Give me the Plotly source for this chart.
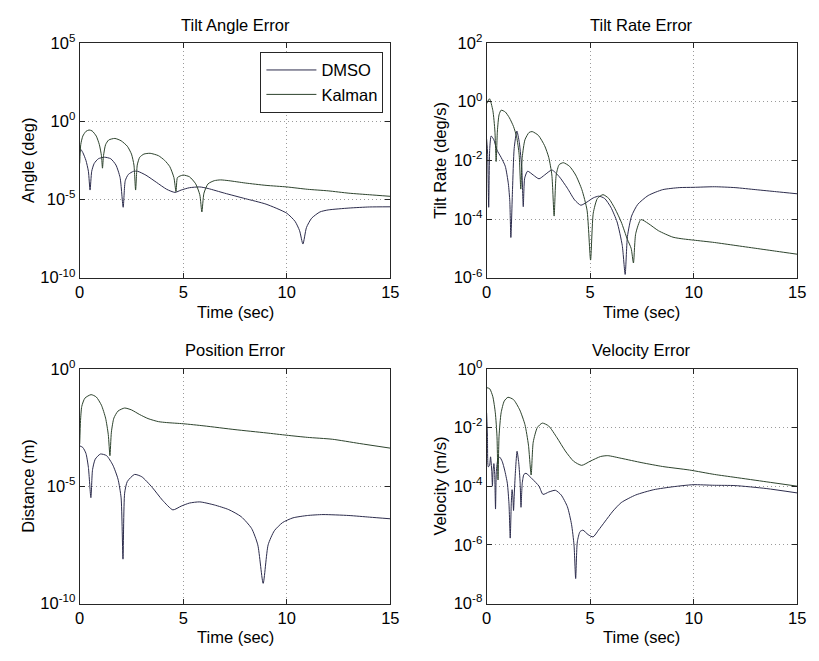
import numpy as np
import plotly.graph_objects as go

# ---------------- data (log10 of error) ----------------
# Tilt Angle Error
angle_t_kalman = [0, 0.05, 0.15, 0.3, 0.45, 0.6, 0.8, 0.95, 1.05, 1.1, 1.15, 1.25, 1.4, 1.7, 2.0, 2.3, 2.5,
                  2.62, 2.7, 2.78, 2.9, 3.1, 3.4, 3.8, 4.1, 4.35, 4.55, 4.65, 4.72, 4.85, 5.0, 5.3, 5.6, 5.8,
                  5.9, 6.0, 6.2, 6.5, 6.8, 7.2, 8, 9, 10, 11, 12, 13, 14, 15]
angle_kalman_log10 = [-2.7, -1.5, -0.95, -0.65, -0.56, -0.62, -0.95, -1.5, -2.2, -3.0, -2.2, -1.5, -1.2, -1.1,
                      -1.25, -1.6, -2.1, -2.8, -4.4, -2.8, -2.3, -2.1, -2.05, -2.2, -2.5, -2.9, -3.6, -4.5, -3.6,
                      -3.5, -3.44, -3.55, -4.0, -4.7, -5.8, -4.6, -4.0, -3.8, -3.75, -3.8, -3.95, -4.1, -4.2,
                      -4.35, -4.45, -4.6, -4.7, -4.8]
angle_t_dmso = [0, 0.05, 0.15, 0.3, 0.42, 0.5, 0.58, 0.7, 0.9, 1.2, 1.5, 1.75, 1.95, 2.1, 2.2, 2.35, 2.6, 2.8,
                3.2, 3.7, 4.2, 4.6, 4.9, 5.3, 5.8, 6.2, 7, 8, 9, 10, 10.4, 10.62, 10.78, 10.95, 11.2, 11.6, 12,
                13, 14, 15]
angle_dmso_log10 = [-2.0, -1.8, -2.0, -2.5, -3.2, -4.4, -3.2, -2.7, -2.4, -2.3, -2.4, -2.8, -3.6, -5.5, -3.8,
                    -3.4, -3.2, -3.2, -3.45, -3.9, -4.35, -4.55, -4.4, -4.25, -4.2, -4.3, -4.6, -4.95, -5.3,
                    -5.88, -6.4, -7.0, -7.85, -6.8, -6.2, -5.8, -5.67, -5.55, -5.48, -5.47]

# Tilt Rate Error
rate_t_kalman = [0, 0.14, 0.3, 0.4, 0.46, 0.52, 0.6, 0.7, 0.9, 1.1, 1.3, 1.45, 1.57, 1.65, 1.72, 1.85, 2.05,
                 2.2, 2.5, 2.8, 3.0, 3.15, 3.26, 3.36, 3.5, 3.7, 4.0, 4.3, 4.6, 4.85, 5.02, 5.15, 5.35, 5.62,
                 5.9, 6.2, 6.5, 6.8, 6.98, 7.09, 7.2, 7.45, 7.8, 8.3, 9.0, 9.5, 10, 11, 12, 13, 14, 15]
rate_kalman_log10 = [-0.07, 0.1, -0.3, -1.0, -2.04, -1.0, -0.45, -0.29, -0.35, -0.55, -0.85, -1.2, -1.8,
                     -2.98, -1.9, -1.3, -1.05, -1.02, -1.15, -1.5, -1.9, -2.5, -3.9, -2.5, -2.15, -2.08,
                     -2.2, -2.5, -3.0, -3.7, -5.4, -3.8, -3.3, -3.17, -3.3, -3.65, -4.1, -4.7, -5.0, -5.5,
                     -4.5, -4.02, -4.15, -4.4, -4.62, -4.68, -4.72, -4.8, -4.9, -5.0, -5.1, -5.2]
rate_t_dmso = [0, 0.05, 0.1, 0.15, 0.22, 0.35, 0.5, 0.7, 0.9, 1.05, 1.12, 1.17, 1.25, 1.33, 1.46, 1.58, 1.7,
               1.77, 1.84, 1.98, 2.25, 2.53, 2.8, 3.15, 3.5, 3.9, 4.25, 4.55, 4.85, 5.15, 5.42, 5.7, 6.0, 6.3,
               6.55, 6.69, 6.8, 7.0, 7.3, 7.8, 8.5, 9.3, 10, 11, 12, 13, 14, 15]
rate_dmso_log10 = [-1.27, -1.8, -3.6, -1.6, -1.17, -1.3, -1.65, -1.9, -2.2, -2.8, -3.4, -4.63, -3.0, -1.6,
                   -1.0, -1.4, -2.3, -3.58, -2.6, -2.37, -2.5, -2.63, -2.5, -2.33, -2.55, -2.95, -3.35,
                   -3.53, -3.42, -3.28, -3.22, -3.3, -3.6, -4.1, -4.9, -5.89, -4.6, -3.9, -3.5, -3.2, -3.0,
                   -2.93, -2.92, -2.9, -2.93, -3.0, -3.07, -3.14]

# Position Error
pos_t_kalman = [0, 0.04, 0.1, 0.25, 0.55, 0.8, 1.05, 1.25, 1.38, 1.46, 1.53, 1.65, 1.85, 2.17, 2.5, 2.9,
                3.3, 3.8, 4.2, 5.0, 6, 7.5, 9, 10, 11, 12.2, 13.5, 15]
pos_kalman_log10 = [-3.2, -2.2, -1.6, -1.25, -1.1, -1.2, -1.55, -2.1, -2.8, -3.7, -2.7, -2.1, -1.8, -1.67,
                    -1.75, -1.95, -2.12, -2.25, -2.29, -2.34, -2.43, -2.59, -2.73, -2.83, -2.92, -3.0,
                    -3.18, -3.38]
pos_t_dmso = [0, 0.15, 0.3, 0.42, 0.54, 0.62, 0.75, 1.0, 1.3, 1.6, 1.85, 2.0, 2.09, 2.17, 2.3, 2.65, 3.0,
              3.5, 4.0, 4.5, 4.9, 5.3, 5.8, 6.5, 7.2, 7.8, 8.3, 8.6, 8.86, 9.1, 9.4, 9.8, 10.3, 11, 11.75,
              13, 14, 15]
pos_dmso_log10 = [-3.28, -3.35, -3.6, -4.2, -5.49, -4.3, -3.85, -3.63, -3.7, -4.1, -4.7, -5.5, -8.11, -5.3,
                  -4.8, -4.5, -4.6, -5.05, -5.6, -6.01, -5.85, -5.72, -5.67, -5.8, -6.0, -6.3, -6.8, -7.5,
                  -9.14, -7.5, -6.9, -6.55, -6.35, -6.25, -6.21, -6.25, -6.32, -6.39]

# Velocity Error
vel_t_kalman = [0, 0.15, 0.3, 0.42, 0.5, 0.55, 0.6, 0.7, 0.85, 1.03, 1.3, 1.6, 1.85, 2.02, 2.15, 2.25,
                2.45, 2.69, 3.0, 3.4, 3.8, 4.2, 4.59, 5.0, 5.5, 5.85, 6.5, 7.5, 8.5, 9.8, 11, 12, 13.5, 15]
vel_kalman_log10 = [-0.64, -0.68, -0.95, -1.5, -2.3, -3.79, -2.3, -1.5, -1.1, -0.97, -1.05, -1.4, -1.9,
                    -2.6, -3.62, -2.5, -2.0, -1.85, -1.95, -2.35, -2.8, -3.15, -3.29, -3.15, -2.99, -2.96,
                    -3.05, -3.2, -3.33, -3.45, -3.6, -3.7, -3.85, -4.0]
vel_t_dmso = [0, 0.04, 0.08, 0.14, 0.19, 0.25, 0.28, 0.31, 0.35, 0.39, 0.43, 0.47, 0.55, 0.63, 0.75, 0.87,
              1.0, 1.08, 1.14, 1.19, 1.23, 1.27, 1.3, 1.34, 1.4, 1.47, 1.55, 1.62, 1.66, 1.72, 1.8, 1.9, 2.2,
              2.53, 2.72, 3.0, 3.32, 3.6, 3.9, 4.1, 4.22, 4.3, 4.38, 4.51, 4.65, 4.9, 5.14, 5.4, 5.7, 6.1,
              6.5, 7.2, 8.07, 9, 9.97, 11, 12, 13.5, 15]
vel_dmso_log10 = [-1.5, -2.3, -3.34, -3.3, -3.0, -3.5, -4.0, -3.5, -3.23, -3.6, -4.78, -3.5, -3.07, -3.01,
                  -3.15, -3.45, -3.9, -4.6, -5.77, -4.6, -4.12, -4.4, -4.83, -4.2, -3.4, -2.81, -3.2, -3.9,
                  -4.72, -3.9, -3.6, -3.56, -3.75, -4.0, -4.28, -4.2, -4.14, -4.3, -4.7, -5.3, -6.0, -7.15,
                  -5.9, -5.55, -5.5, -5.65, -5.73, -5.5, -5.22, -4.85, -4.56, -4.3, -4.12, -4.02, -3.95,
                  -3.97, -3.98, -4.08, -4.23]

series_names = ["DMSO", "Kalman"]
x_ticks = [0, 5, 10, 15]

panel_titles = ["Tilt Angle Error", "Tilt Rate Error", "Position Error", "Velocity Error"]
y_titles = ["Angle (deg)", "Tilt Rate (deg/s)", "Distance (m)", "Velocity (m/s)"]
x_title = "Time (sec)"
y_tick_exps = [[-10, -5, 0, 5], [-6, -4, -2, 0, 2], [-10, -5, 0], [-8, -6, -4, -2, 0]]

# ---------------- styling ----------------
W, H = 819, 661
DMSO_COLOR = "#2c2c4c"
KALMAN_COLOR = "#2d432d"
FONT = "Arial, Liberation Sans, Helvetica, sans-serif"
FS = 16.5

# panel pixel boxes: left, right, top, bottom
boxes = [(76, 392, 33, 275), (490, 806, 33, 275), (76, 392, 369, 611), (490, 806, 369, 611)]

panels = [
    (angle_t_dmso, angle_dmso_log10, angle_t_kalman, angle_kalman_log10),
    (rate_t_dmso, rate_dmso_log10, rate_t_kalman, rate_kalman_log10),
    (pos_t_dmso, pos_dmso_log10, pos_t_kalman, pos_kalman_log10),
    (vel_t_dmso, vel_dmso_log10, vel_t_kalman, vel_kalman_log10),
]

fig = go.Figure()
layout = dict(
    width=W, height=H, margin=dict(l=0, r=0, t=0, b=0),
    paper_bgcolor="white", plot_bgcolor="white",
    font=dict(family=FONT, size=FS, color="black"),
    showlegend=True,
)
annotations = []

for i, (td, vd, tk, vk) in enumerate(panels):
    n = "" if i == 0 else str(i + 1)
    xa, ya = "x" + n, "y" + n
    fig.add_trace(go.Scatter(x=td, y=np.power(10.0, vd), mode="lines", name=series_names[0],
                             line=dict(color=DMSO_COLOR, width=1, shape="spline", smoothing=0.6),
                             xaxis=xa, yaxis=ya, showlegend=(i == 0)))
    fig.add_trace(go.Scatter(x=tk, y=np.power(10.0, vk), mode="lines", name=series_names[1],
                             line=dict(color=KALMAN_COLOR, width=1, shape="spline", smoothing=0.6),
                             xaxis=xa, yaxis=ya, showlegend=(i == 0)))
    l, r, t, b = boxes[i]
    exps = y_tick_exps[i]
    common = dict(showline=True, linecolor="#262626", linewidth=1, mirror="ticks", ticks="inside",
                  ticklen=5, tickcolor="#262626", showgrid=True, gridcolor="#9a9a9a", griddash="1px,3px",
                  gridwidth=1, zeroline=False, tickfont=dict(family=FONT, size=FS, color="black"))
    layout["xaxis" + n] = dict(domain=[l / W, r / W], anchor=ya, range=[0, 15], tickvals=x_ticks,
                               ticktext=[str(v) for v in x_ticks], **common)
    layout["yaxis" + n] = dict(domain=[1 - b / H, 1 - t / H], anchor=xa, type="log",
                               range=[exps[0], exps[-1]], tickvals=[10.0 ** e for e in exps],
                               ticktext=["10<sup>%d</sup>" % e for e in exps], **common)
    cx = (l + r) / 2
    annotations.append(dict(text=panel_titles[i], x=cx / W, y=1 - (t - 19) / H, xref="paper",
                            yref="paper", showarrow=False, xanchor="center", yanchor="middle",
                            font=dict(size=FS)))
    annotations.append(dict(text=x_title, x=cx / W, y=1 - (b + 35) / H, xref="paper", yref="paper",
                            showarrow=False, xanchor="center", yanchor="middle", font=dict(size=FS)))
    ylab_x = 24 if i in (0, 2) else 443
    annotations.append(dict(text=y_titles[i], x=ylab_x / W, y=1 - ((t + b) / 2) / H, xref="paper",
                            yref="paper", showarrow=False, xanchor="center", yanchor="middle",
                            textangle=-90, font=dict(size=FS)))

layout["annotations"] = annotations
layout["legend"] = dict(x=385 / W, y=1 - 42 / H, xanchor="right", yanchor="top",
                        bgcolor="white", bordercolor="#262626", borderwidth=1,
                        font=dict(family=FONT, size=FS, color="black"), itemwidth=50,
                        tracegroupgap=0)
fig.update_layout(**layout)
fig.write_html("out.html")
